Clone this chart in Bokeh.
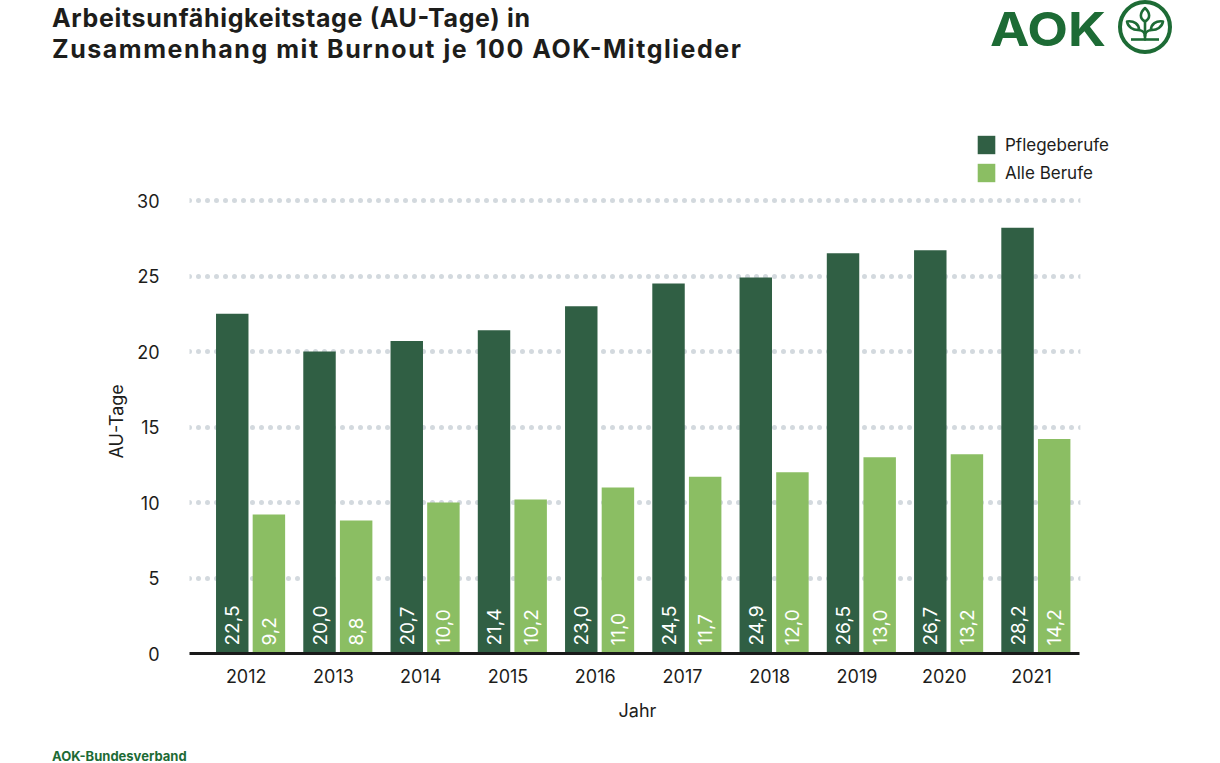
import math
from bokeh.plotting import figure
from bokeh.layouts import column
from bokeh.models import (Range1d, FixedTicker, CustomJSTickFormatter, Legend, LegendItem,
                          ColumnDataSource, Div, BoxAnnotation, Title)
from bokeh.core.properties import value
from bokeh.embed import file_html
from bokeh.resources import INLINE

# ---------------- data ----------------
years = ["2012", "2013", "2014", "2015", "2016", "2017", "2018", "2019", "2020", "2021"]
pflege = [22.5, 20.0, 20.7, 21.4, 23.0, 24.5, 24.9, 26.5, 26.7, 28.2]
alle = [9.2, 8.8, 10.0, 10.2, 11.0, 11.7, 12.0, 13.0, 13.2, 14.2]
y_ticks = [0, 5, 10, 15, 20, 25, 30]
series_names = ["Pflegeberufe", "Alle Berufe"]
x_title = "Jahr"
y_title = "AU-Tage"
title_lines = ["Arbeitsunfähigkeitstage (AU-Tage) in", "Zusammenhang mit Burnout je 100 AOK-Mitglieder"]
logo_text = "AOK"
footer_text = "AOK-Bundesverband"

# ---------------- style ----------------
FONT = "Inter"
DARK = "#305f44"
LIGHT = "#8bbe63"
LOGO = "#1d6b35"
TXT = "#1d1d1b"
W = 1220

# ---------------- header (inline svg: title + logo) ----------------
header_svg = f"""
<svg xmlns="http://www.w3.org/2000/svg" width="{W}" height="110" style="display:block">
  <g style="font-family:{FONT};font-weight:700;font-size:25px" fill="{TXT}">
    <text x="52" y="26.7" textLength="478" lengthAdjust="spacing">{title_lines[0]}</text>
    <text x="52" y="57.5" textLength="689" lengthAdjust="spacing">{title_lines[1]}</text>
  </g>
  <text x="990" y="45.5" style="font-family:{FONT};font-weight:700;font-size:46.5px" fill="{LOGO}"
        textLength="116" lengthAdjust="spacingAndGlyphs">{logo_text}</text>
  <g fill="none" stroke="{LOGO}" stroke-linecap="round" stroke-linejoin="round">
    <circle cx="1145" cy="27" r="25" stroke-width="4"/>
    <g stroke-width="2.6">
      <path d="M1145,8 C1150.5,13 1150.5,18.5 1145,21.5 C1139.5,18.5 1139.5,13 1145,8 Z"/>
      <path d="M1127,21.5 C1134,20.5 1139,24 1139,30 C1133,30.5 1128,27 1127,21.5 Z"/>
      <path d="M1163,21.5 C1156,20.5 1151,24 1151,30 C1157,30.5 1162,27 1163,21.5 Z"/>
      <path d="M1139,30 Q1145,31 1145,36"/>
      <path d="M1151,30 Q1145,31 1145,36"/>
      <path d="M1145,21.5 V39.5"/>
      <path d="M1131,39.5 H1159" stroke-linecap="butt"/>
    </g>
  </g>
</svg>
"""
header = Div(text=header_svg, width=W, height=110, styles={"margin": "0", "padding": "0"})

# ---------------- main chart ----------------
n = len(years)
idx = list(range(n))
off = 0.21
bw = 0.372
x_lo, x_axis_hi = -0.70, 9.50

# frame: x 189..1120 px, y 125..653 px (87.25 px per category, 15.1 px per AU-Tag)
p = figure(width=W, height=626, x_range=Range1d(x_lo, 9.970), y_range=Range1d(0, 34.967),
           output_backend="svg", toolbar_location=None,
           min_border_left=189, min_border_right=100, min_border_top=15, min_border_bottom=83)
p.outline_line_color = None

src = ColumnDataSource(dict(
    xd=[i - off for i in idx], xl=[i + off for i in idx],
    pflege=pflege, alle=alle,
    lp=[f"{v:.1f}".replace(".", ",") for v in pflege],
    la=[f"{v:.1f}".replace(".", ",") for v in alle],
    zero=[0] * n,
))

r1 = p.vbar(x="xd", top="pflege", width=bw, source=src, fill_color=DARK, line_color=None)
r2 = p.vbar(x="xl", top="alle", width=bw, source=src, fill_color=LIGHT, line_color=None)

for xcol, tcol in (("xd", "lp"), ("xl", "la")):
    p.text(x=xcol, y="zero", text=tcol, source=src, angle=math.pi / 2, y_offset=-8,
           text_align="left", text_baseline="middle", text_color="white",
           text_font=value(FONT), text_font_size="19px")

# axes
p.xaxis.ticker = FixedTicker(ticks=[i - 0.05 for i in idx])
p.xaxis.formatter = CustomJSTickFormatter(args=dict(years=years),
                                          code="return years[Math.round(tick)];")
p.xaxis.bounds = (x_lo, x_axis_hi)
p.xaxis.axis_line_color = "#1a1a1a"
p.xaxis.axis_line_width = 3
p.xaxis.major_tick_line_color = None
p.xaxis.minor_tick_line_color = None
p.xaxis.major_label_standoff = 9

p.yaxis.ticker = FixedTicker(ticks=y_ticks)
p.yaxis.bounds = (0, 30)
p.yaxis.axis_line_color = None
p.yaxis.major_tick_line_color = None
p.yaxis.minor_tick_line_color = None
p.yaxis.major_label_standoff = 24

for ax in (p.xaxis, p.yaxis):
    ax.major_label_text_font = FONT
    ax.major_label_text_font_size = "18px"
    ax.major_label_text_color = TXT

# axis titles placed along the axis extent (frame is wider/taller to hold the legend)
p.add_layout(Title(text=x_title, align="left", offset=429, vertical_align="middle", standoff=26,
                   text_font=FONT, text_font_size="18px", text_font_style="normal",
                   text_color=TXT), "below")
p.add_layout(Title(text=y_title, align="left", offset=195, vertical_align="middle", standoff=14,
                   text_font=FONT, text_font_size="18px", text_font_style="normal",
                   text_color=TXT), "left")

p.xgrid.visible = False
p.ygrid.ticker = FixedTicker(ticks=y_ticks[1:])
p.ygrid.grid_line_color = "#d3d9de"
p.ygrid.grid_line_width = 5
p.ygrid.grid_line_dash = "0 9"
p.ygrid.grid_line_cap = "round"

# keep the dotted grid within the axis extent
p.add_layout(BoxAnnotation(left=x_axis_hi + 0.01, fill_color="white", fill_alpha=1.0,
                           line_color=None, level="underlay"))

legend = Legend(items=[LegendItem(label=series_names[0], renderers=[r1]),
                       LegendItem(label=series_names[1], renderers=[r2])],
                location=(786, 469), orientation="vertical",
                glyph_width=22, glyph_height=23, spacing=5, padding=0, margin=0,
                label_standoff=8, label_height=23,
                label_text_font=FONT, label_text_font_size="17px", label_text_color=TXT,
                border_line_color=None, background_fill_alpha=0)
p.add_layout(legend, "center")

# ---------------- footer ----------------
footer_svg = f"""
<svg xmlns="http://www.w3.org/2000/svg" width="{W}" height="27" style="display:block">
  <text x="52" y="25" style="font-family:{FONT};font-weight:700;font-size:13px" fill="{LOGO}">{footer_text}</text>
</svg>
"""
footer = Div(text=footer_svg, width=W, height=27, styles={"margin": "0", "padding": "0"})

layout = column(header, p, footer, spacing=0)
open("out.html", "w").write(file_html(layout, INLINE))
